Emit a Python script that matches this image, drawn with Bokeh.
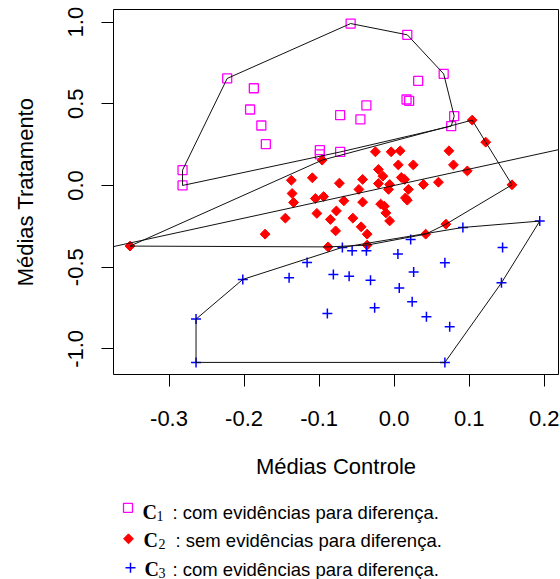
import math
from bokeh.plotting import figure
from bokeh.layouts import column
from bokeh.models import Range1d, FixedTicker, Slope
from bokeh.core.properties import value
from bokeh.embed import file_html
from bokeh.resources import INLINE

# ---------------- data ----------------
c1_x = [-0.2225, -0.187, -0.192, -0.177, -0.171, -0.282, -0.282, -0.099, -0.099, -0.072, -0.072,
        -0.058, 0.0175, 0.066, 0.032, 0.0165, 0.020, -0.037, -0.045, 0.080, 0.076]
c1_y = [0.655, 0.595, 0.465, 0.367, 0.253, 0.094, 0.0, 0.216, 0.19, 0.43, 0.205,
        0.991, 0.922, 0.683, 0.640, 0.526, 0.518, 0.49, 0.404, 0.424, 0.363]

c2_x = [-0.352, -0.096, -0.137, -0.109, -0.073, -0.136, -0.134, -0.105, -0.094, -0.145, -0.103,
        -0.077, -0.085, -0.078, -0.172, -0.088, -0.025, -0.004, 0.008, 0.073, 0.122, 0.104,
        0.0055, 0.0255, 0.079, 0.0975, -0.021, -0.015, 0.0095, 0.014, -0.042, -0.021, -0.006,
        -0.0075, 0.039, 0.059, 0.019, -0.047, -0.067, -0.042, 0.015, 0.0175, -0.018, -0.013,
        -0.011, -0.006, -0.055, -0.044, -0.036, 0.069, 0.042, 0.157, -0.036]
c2_y = [-0.371, 0.155, 0.032, 0.047, 0.014, -0.049, -0.104, -0.080, -0.068, -0.200, -0.171,
        -0.156, -0.208, -0.278, -0.298, -0.376, 0.206, 0.206, 0.212, 0.212, 0.265, 0.400,
        0.126, 0.126, 0.126, 0.089, 0.098, 0.057, 0.049, 0.037, 0.037, 0.012, 0.006,
        -0.024, 0.006, 0.020, -0.024, -0.024, -0.094, -0.102, -0.076, -0.090, -0.114, -0.127,
        -0.168, -0.217, -0.200, -0.253, -0.298, -0.237, -0.298, 0.004, -0.365]

c3_x = [-0.2017, -0.264, -0.264, -0.140, -0.116, -0.081, -0.089, 0.194, 0.0916, 0.022, -0.069,
        -0.056, -0.037, 0.005, 0.1445, 0.0676, 0.026, -0.060, -0.0315, 0.0068, 0.143, 0.024,
        -0.026, 0.043, 0.074, 0.0676]
c3_y = [-0.575, -0.818, -1.083, -0.565, -0.471, -0.545, -0.783, -0.218, -0.257, -0.330, -0.379,
        -0.400, -0.400, -0.420, -0.379, -0.473, -0.529, -0.555, -0.580, -0.627, -0.596, -0.712,
        -0.749, -0.804, -0.865, -1.083]

x_ticks = [-0.3, -0.2, -0.1, 0.0, 0.1, 0.2]
x_tick_labels = ["-0.3", "-0.2", "-0.1", "0.0", "0.1", "0.2"]
y_ticks = [-1.0, -0.5, 0.0, 0.5, 1.0]
y_tick_labels = ["-1.0", "-0.5", "0.0", "0.5", "1.0"]

x_title = "Médias Controle"
y_title = "Médias Tratamento"
group_symbols = ["C", "C", "C"]
group_indices = ["1", "2", "3"]
group_texts = [": com evidências para diferença.",
               ": sem evidências para diferença.",
               ": com evidências para diferença."]
ref_slope, ref_intercept = 1.0, 0.0

X_RANGE = (-0.374, 0.219)
Y_RANGE = (-1.157, 1.077)

FONT = "Liberation Sans"
MAGENTA, RED, BLUE = "#FF00FF", "#FF0000", "#0000FF"

# ---------------- layout (pixels) ----------------
W = 560
H_MAIN = 488
H_LEG = 91
BORDER_L, BORDER_R = 113, 2
LEG_MARK_X = [127.5, 128.0, 130.0]
LEG_MARK_Y = [19.3, 50.3, 79.3]
LEG_SYM_X = [142.0, 143.0, 144.0]
LEG_SUB_X = [156.0, 158.0, 158.0]
LEG_TEXT_X = [172.0, 175.0, 172.0]
LEG_BASE_Y = [23.5, 51.8, 80.5]
SUB_DROP = 3.5


def convex_hull(xs, ys):
    pts = sorted(set(zip(xs, ys)))

    def cross(o, a, b):
        return (a[0] - o[0]) * (b[1] - o[1]) - (a[1] - o[1]) * (b[0] - o[0])

    lower = []
    for q in pts:
        while len(lower) >= 2 and cross(lower[-2], lower[-1], q) <= 0:
            lower.pop()
        lower.append(q)
    upper = []
    for q in reversed(pts):
        while len(upper) >= 2 and cross(upper[-2], upper[-1], q) <= 0:
            upper.pop()
        upper.append(q)
    h = lower[:-1] + upper[:-1]
    h.append(h[0])
    return [q[0] for q in h], [q[1] for q in h]


p = figure(width=W, height=H_MAIN, output_backend="svg", toolbar_location=None,
           x_range=Range1d(*X_RANGE), y_range=Range1d(*Y_RANGE),
           min_border_left=BORDER_L, min_border_right=BORDER_R, min_border_top=9,
           min_border_bottom=H_MAIN - 374)
p.grid.visible = False
p.outline_line_color = "black"
p.outline_line_width = 1
p.background_fill_color = "white"
p.border_fill_color = "white"

SQUARE_STYLE = dict(marker="square", size=9, fill_color=None, line_color=MAGENTA, line_width=1.3)
DIAMOND_STYLE = dict(marker="square", angle=math.pi / 4, size=7, fill_color=RED, line_color=RED, line_width=1)
CROSS_STYLE = dict(marker="cross", size=10, line_color=BLUE, line_width=1.5)

p.scatter(c1_x, c1_y, **SQUARE_STYLE)
p.scatter(c2_x, c2_y, **DIAMOND_STYLE)
p.scatter(c3_x, c3_y, **CROSS_STYLE)

for xs, ys in [(c1_x, c1_y), (c2_x, c2_y), (c3_x, c3_y)]:
    hx, hy = convex_hull(xs, ys)
    p.line(hx, hy, line_color="#111111", line_width=1)

p.add_layout(Slope(gradient=ref_slope, y_intercept=ref_intercept, line_color="#111111", line_width=1))

for ax, ticks, labels in [(p.xaxis[0], x_ticks, x_tick_labels), (p.yaxis[0], y_ticks, y_tick_labels)]:
    ax.ticker = FixedTicker(ticks=ticks)
    ax.major_label_overrides = {t: l for t, l in zip(ticks, labels)}
    ax.axis_line_color = None
    ax.major_tick_in = 0
    ax.major_tick_out = 12
    ax.major_tick_line_color = "black"
    ax.major_tick_line_width = 1
    ax.minor_tick_line_color = None
    ax.major_label_text_font = FONT
    ax.major_label_text_font_size = "22px"
    ax.major_label_text_color = "black"
    ax.axis_label_text_font = FONT
    ax.axis_label_text_font_size = "22px"
    ax.axis_label_text_font_style = "normal"
    ax.axis_label_text_color = "black"

p.xaxis.axis_label = x_title
p.yaxis.axis_label = y_title
p.xaxis.major_label_standoff = 24
p.xaxis.axis_label_standoff = 25
p.yaxis.major_label_orientation = "vertical"
p.yaxis.major_label_standoff = 18
p.yaxis.axis_label_standoff = 28

# ---------------- legend panel (pixel coordinates, frame aligned with the plot) ----------------
leg = figure(width=W, height=H_LEG, output_backend="svg", toolbar_location=None,
             x_range=Range1d(BORDER_L, W - BORDER_R), y_range=Range1d(H_LEG, 0),
             x_axis_location=None, y_axis_location=None,
             min_border_left=BORDER_L, min_border_right=BORDER_R, min_border_top=0, min_border_bottom=0)
leg.grid.visible = False
leg.outline_line_color = None
leg.background_fill_color = "white"
leg.border_fill_color = "white"

for i, style in enumerate([SQUARE_STYLE, DIAMOND_STYLE, CROSS_STYLE]):
    leg.scatter([LEG_MARK_X[i]], [LEG_MARK_Y[i]], **style)

leg.text(x=LEG_SYM_X, y=LEG_BASE_Y, text=group_symbols, text_font=value("Liberation Serif"),
         text_font_style="bold", text_font_size="20px", text_color="black", text_baseline="alphabetic")
leg.text(x=LEG_SUB_X, y=[b + SUB_DROP for b in LEG_BASE_Y], text=group_indices,
         text_font=value("Liberation Serif"), text_font_size="14px", text_color="black",
         text_baseline="alphabetic")
leg.text(x=LEG_TEXT_X, y=LEG_BASE_Y, text=group_texts, text_font=value(FONT),
         text_font_size="18.5px", text_color="black", text_baseline="alphabetic")

layout = column(p, leg, spacing=0)
open("out.html", "w").write(file_html(layout, INLINE))
